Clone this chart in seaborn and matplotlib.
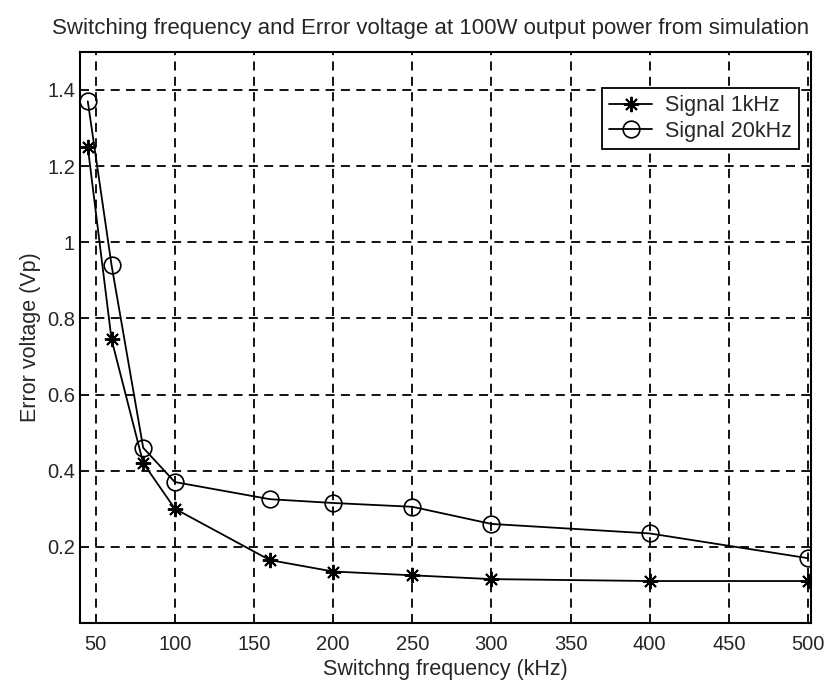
import pandas as pd
import matplotlib
matplotlib.use('Agg')
import matplotlib.pyplot as plt
import seaborn as sns

# Values
freq_khz = [45, 60, 80, 100, 160, 200, 250, 300, 400, 500]
err_1khz = [1.25, 0.745, 0.42, 0.30, 0.165, 0.135, 0.125, 0.115, 0.11, 0.11]
err_20khz = [1.37, 0.94, 0.46, 0.37, 0.325, 0.315, 0.305, 0.26, 0.235, 0.17]
x_ticks = [50, 100, 150, 200, 250, 300, 350, 400, 450, 500]
y_ticks = [0.2, 0.4, 0.6, 0.8, 1.0, 1.2, 1.4]
y_tick_labels = ['0.2', '0.4', '0.6', '0.8', '1', '1.2', '1.4']

df_1k = pd.DataFrame({'freq': freq_khz, 'err': err_1khz})
df_20k = pd.DataFrame({'freq': freq_khz, 'err': err_20khz})

sns.set_style('white')
plt.rcParams['font.family'] = ['Liberation Sans', 'DejaVu Sans']

fig = plt.figure(figsize=(8.32, 6.83), dpi=100)
ax = fig.add_axes([0.096, 0.088, 0.879, 0.836])

sns.lineplot(data=df_1k, x='freq', y='err', ax=ax, color='black', lw=1.3,
             marker=(8, 2, 0), markersize=11, markeredgewidth=1.4,
             markeredgecolor='black', label='Signal 1kHz')
sns.lineplot(data=df_20k, x='freq', y='err', ax=ax, color='black', lw=1.3,
             marker='o', markersize=12, markerfacecolor='none',
             markeredgecolor='black', markeredgewidth=1.2,
             label='Signal 20kHz')

ax.set_xlim(40, 502)
ax.set_ylim(0, 1.5)
ax.set_xticks(x_ticks)
ax.set_yticks(y_ticks)
ax.set_yticklabels(y_tick_labels)
ax.tick_params(axis='both', labelsize=14.5, direction='in', length=4, color='black')
ax.tick_params(axis='x', pad=9)
ax.grid(True, color='black', linestyle=(0, (5, 3.5)), linewidth=1.3)
for s in ax.spines.values():
    s.set_color('black')
    s.set_linewidth(1.5)

fig.text(0.517, 0.958,
         'Switching frequency and Error voltage at 100W output power from simulation',
         fontsize=16, ha='center', va='center')
ax.set_xlabel('Switchng frequency (kHz)', fontsize=15.5, labelpad=3)
ax.set_ylabel('Error voltage (Vp)', fontsize=15.5)

leg = ax.legend(loc='upper right', bbox_to_anchor=(0.984, 0.937), fontsize=15.5,
                frameon=True, fancybox=False, framealpha=1, edgecolor='black',
                borderpad=0.35, borderaxespad=0, handlelength=2.0,
                labelspacing=0.2, handletextpad=0.6)
leg.get_frame().set_linewidth(1.3)

plt.savefig('out.png', dpi=100)
plt.close()
